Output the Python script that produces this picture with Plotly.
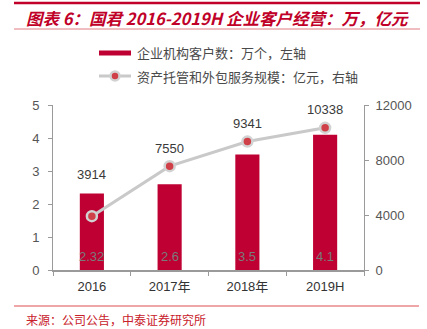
import plotly.graph_objects as go

# Data
categories = ["2016", "2017年", "2018年", "2019H"]
clients = [2.32, 2.6, 3.5, 4.1]            # 企业机构客户数（万个，左轴）
custody = [3914, 7550, 9341, 10338]        # 资产托管和外包服务规模（亿元，右轴）
custody_label_shift = [42, 18, 18, 18]

W, H = 427, 329
L, R, T, B = 53, 364, 105, 270   # plot area in pixels

RED = "#be0032"
GRAY_LINE = "#c9c9c9"
AXIS = "#9a9a9a"
FONT = "Liberation Sans, Noto Sans CJK SC, sans-serif"
CJK = "Noto Sans CJK SC, sans-serif"


def px(x):
    return (x - L) / (R - L)


def py(y):
    return (B - y) / (B - T)


fig = go.Figure()

fig.add_trace(go.Bar(
    x=categories, y=clients, name="企业机构客户数：万个，左轴",
    marker=dict(color=RED, line=dict(width=0)), width=0.31,
    yaxis="y", showlegend=False,
))

fig.add_trace(go.Scatter(
    x=categories, y=custody, name="资产托管和外包服务规模：亿元，右轴",
    mode="lines+markers", yaxis="y2",
    line=dict(color=GRAY_LINE, width=3),
    marker=dict(size=10, color="#d04048", line=dict(color="#d2d2d2", width=2.5)),
    showlegend=False,
))

annotations = []
# values inside bars, near the base (x given as category index)
for i, v in enumerate(clients):
    annotations.append(dict(
        x=i, y=0, xref="x", yref="y", text=f"{v:g}", showarrow=False,
        yshift=14, font=dict(family=FONT, size=13, color="#7a7a7a"),
    ))
# values above line points
for i, (v, s) in enumerate(zip(custody, custody_label_shift)):
    annotations.append(dict(
        x=i, y=v, xref="x", yref="y2", text=str(v), showarrow=False,
        yshift=s, font=dict(family=FONT, size=13, color="#3a3a3a"),
    ))

# title, legend text and source
annotations += [
    dict(x=px(24), y=py(18), xref="paper", yref="paper", xanchor="left", yanchor="middle",
         text="<b><i>图表 6：国君 2016-2019H 企业客户经营：万，亿元</i></b>",
         showarrow=False, font=dict(family=CJK, size=16.5, color="#c00028")),
    dict(x=px(135), y=py(53), xref="paper", yref="paper", xanchor="left", yanchor="middle",
         text="企业机构客户数：万个，左轴", showarrow=False,
         font=dict(family=CJK, size=13, color="#4a4a4a")),
    dict(x=px(135), y=py(76), xref="paper", yref="paper", xanchor="left", yanchor="middle",
         text="资产托管和外包服务规模：亿元，右轴", showarrow=False,
         font=dict(family=CJK, size=13, color="#4a4a4a")),
    dict(x=px(24), y=py(319), xref="paper", yref="paper", xanchor="left", yanchor="middle",
         text="来源：公司公告，中泰证券研究所", showarrow=False,
         font=dict(family=CJK, size=12, color="#c8202a")),
]

shapes = [
    # top rule
    dict(type="line", xref="paper", yref="paper", x0=px(14), x1=px(420), y0=py(3), y1=py(3),
         line=dict(color="#c00028", width=2.5)),
    # rule under title
    dict(type="line", xref="paper", yref="paper", x0=px(14), x1=px(420), y0=py(29), y1=py(29),
         line=dict(color="#e07a80", width=1)),
    # bottom rule
    dict(type="line", xref="paper", yref="paper", x0=px(14), x1=px(419), y0=py(306), y1=py(306),
         line=dict(color="#e8888c", width=1.5)),
    # legend: bar swatch
    dict(type="rect", xref="paper", yref="paper", x0=px(99), x1=px(131), y0=py(50.5), y1=py(55.5),
         fillcolor=RED, line=dict(width=0)),
    # legend: line swatch
    dict(type="line", xref="paper", yref="paper", x0=px(99), x1=px(131), y0=py(76), y1=py(76),
         line=dict(color=GRAY_LINE, width=3)),
    dict(type="circle", xref="paper", yref="paper", x0=px(110.5), x1=px(119.5), y0=py(71.5), y1=py(80.5),
         fillcolor="#d04048", line=dict(color="#d2d2d2", width=2.5)),
]

fig.update_layout(
    width=W, height=H,
    margin=dict(l=L, r=W - R, t=T, b=H - B, pad=0),
    paper_bgcolor="white", plot_bgcolor="white",
    font=dict(family=FONT, size=13, color="#555555"),
    xaxis=dict(
        type="category", range=[-0.5, 3.5], showline=True, linecolor=AXIS, linewidth=1.5,
        ticks="outside", tickson="boundaries", ticklen=4, tickcolor=AXIS,
        showgrid=False, tickfont=dict(family=FONT, size=13, color="#333333"),
        ticklabelstandoff=4,
    ),
    yaxis=dict(
        range=[0, 5], dtick=1, showline=True, linecolor=AXIS, linewidth=1,
        ticks="outside", ticklen=4, tickcolor=AXIS, showgrid=False, zeroline=False,
        tickfont=dict(family=FONT, size=13, color="#555555"), ticklabelstandoff=6,
    ),
    yaxis2=dict(
        range=[0, 12000], dtick=4000, tickformat="d", overlaying="y", side="right",
        showline=True, linecolor=AXIS, linewidth=1, ticks="outside", ticklen=4,
        tickcolor=AXIS, showgrid=False, zeroline=False,
        tickfont=dict(family=FONT, size=13, color="#555555"), ticklabelstandoff=4,
    ),
    annotations=annotations, shapes=shapes, showlegend=False,
)

fig.write_html("out.html")
